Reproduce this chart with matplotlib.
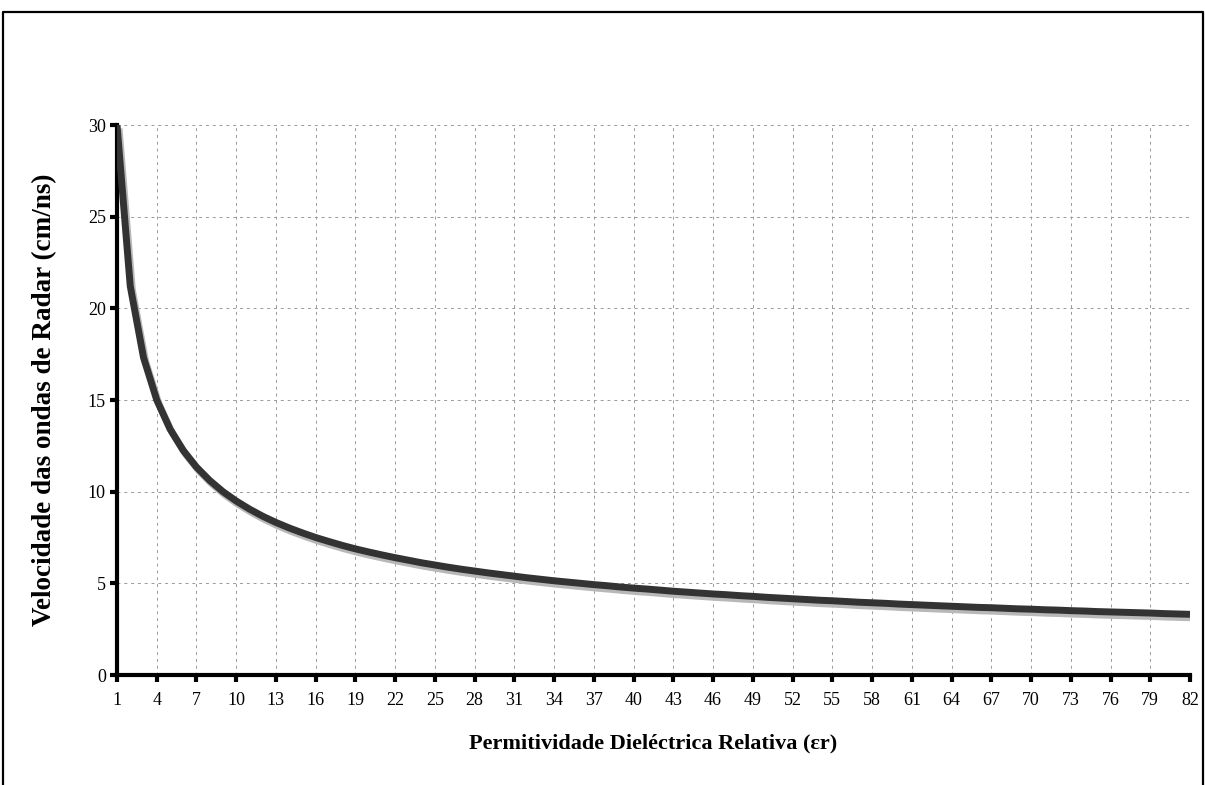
import matplotlib
matplotlib.use("Agg")
import matplotlib.pyplot as plt
import matplotlib.patheffects as pe
from matplotlib.lines import Line2D

plt.rcParams['font.family'] = ['Liberation Serif', 'DejaVu Serif']

# relative permittivity (categories) and radar wave velocity (cm/ns)
permitividade = list(range(1, 83))
velocidade = [30.00, 21.21, 17.32, 15.00, 13.42, 12.25, 11.34, 10.61, 10.00, 9.49,
              9.05, 8.66, 8.32, 8.02, 7.75, 7.50, 7.28, 7.07, 6.88, 6.71,
              6.55, 6.40, 6.26, 6.12, 6.00, 5.88, 5.77, 5.67, 5.57, 5.48,
              5.39, 5.30, 5.22, 5.14, 5.07, 5.00, 4.93, 4.87, 4.80, 4.74,
              4.69, 4.63, 4.57, 4.52, 4.47, 4.42, 4.38, 4.33, 4.29, 4.24,
              4.20, 4.16, 4.12, 4.08, 4.05, 4.01, 3.97, 3.94, 3.91, 3.87,
              3.84, 3.81, 3.78, 3.75, 3.72, 3.69, 3.67, 3.64, 3.61, 3.59,
              3.56, 3.54, 3.51, 3.49, 3.46, 3.44, 3.42, 3.40, 3.38, 3.35,
              3.33, 3.31]
xticks = list(range(1, 83, 3))
yticks = [0, 5, 10, 15, 20, 25, 30]

fig = plt.figure(figsize=(12.05, 7.85), dpi=100)
ax = fig.add_axes([117/1205, 1 - 675/785, (1190-117)/1205, (675-125)/785])

ax.plot(permitividade, velocidade, color='#333333', lw=5, solid_capstyle='butt',
        path_effects=[pe.SimpleLineShadow(offset=(1.5, -2.5), shadow_color='#b8b8b8', alpha=1),
                      pe.Normal()], zorder=3)

ax.set_xlim(1, 82)
ax.set_ylim(0, 30)
ax.set_xticks(xticks)
ax.set_yticks(yticks)
ax.tick_params(axis='both', labelsize=13, direction='out', length=5, width=3, color='black')
ax.tick_params(axis='x', pad=7)
ax.tick_params(axis='y', pad=3)

ax.grid(True, color='#999999', linestyle=(0, (3, 4)), lw=0.7)
ax.set_axisbelow(True)
for s in ['top', 'right']:
    ax.spines[s].set_visible(False)
for s in ['left', 'bottom']:
    ax.spines[s].set_linewidth(3)

ax.set_xlabel('Permitividade Dieléctrica Relativa (εr)', fontsize=16, fontweight='bold', labelpad=18)
ax.set_ylabel('Velocidade das ondas de Radar (cm/ns)', fontsize=19.5, fontweight='bold', labelpad=22)

# outer chart-area frame (open at the bottom)
fx0, fx1, fy0, fy1 = 3/1205, 1203/1205, 0, 1 - 12/785
fig.add_artist(Line2D([fx0, fx0, fx1, fx1], [fy0, fy1, fy1, fy0], color='black', lw=1.6,
                      transform=fig.transFigure))

fig.savefig('out.png', dpi=100)
